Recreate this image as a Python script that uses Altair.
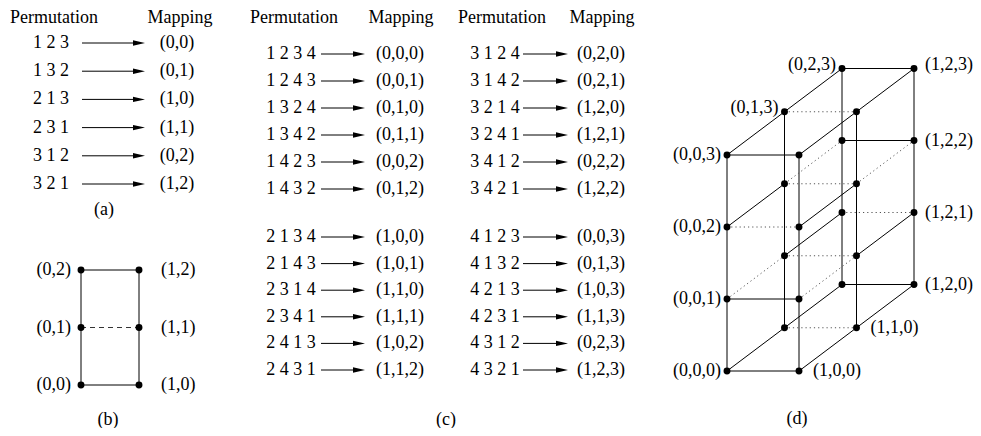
import altair as alt
import pandas as pd

# ---------------- data ----------------
headers = ["Permutation", "Mapping"]
captions = ["(a)", "(b)", "(c)", "(d)"]

perm3 = ["1 2 3", "1 3 2", "2 1 3", "2 3 1", "3 1 2", "3 2 1"]
map3 = ["(0,0)", "(0,1)", "(1,0)", "(1,1)", "(0,2)", "(1,2)"]

perm4_col1 = ["1 2 3 4", "1 2 4 3", "1 3 2 4", "1 3 4 2", "1 4 2 3", "1 4 3 2",
              "2 1 3 4", "2 1 4 3", "2 3 1 4", "2 3 4 1", "2 4 1 3", "2 4 3 1"]
map4_col1 = ["(0,0,0)", "(0,0,1)", "(0,1,0)", "(0,1,1)", "(0,0,2)", "(0,1,2)",
             "(1,0,0)", "(1,0,1)", "(1,1,0)", "(1,1,1)", "(1,0,2)", "(1,1,2)"]
perm4_col2 = ["3 1 2 4", "3 1 4 2", "3 2 1 4", "3 2 4 1", "3 4 1 2", "3 4 2 1",
              "4 1 2 3", "4 1 3 2", "4 2 1 3", "4 2 3 1", "4 3 1 2", "4 3 2 1"]
map4_col2 = ["(0,2,0)", "(0,2,1)", "(1,2,0)", "(1,2,1)", "(0,2,2)", "(1,2,2)",
             "(0,0,3)", "(0,1,3)", "(1,0,3)", "(1,1,3)", "(0,2,3)", "(1,2,3)"]

grid2_nodes = [(0, 0), (0, 1), (0, 2), (1, 0), (1, 1), (1, 2)]
grid2_edges = [((0, 0), (1, 0), "solid"), ((0, 1), (1, 1), "dashed"), ((0, 2), (1, 2), "solid"),
               ((0, 0), (0, 1), "solid"), ((0, 1), (0, 2), "solid"),
               ((1, 0), (1, 1), "solid"), ((1, 1), (1, 2), "solid")]
grid2_left = ["(0,0)", "(0,1)", "(0,2)"]
grid2_right = ["(1,0)", "(1,1)", "(1,2)"]

lat_a = [0, 1]
lat_b = [0, 1, 2]
lat_c = [0, 1, 2, 3]
# style of edge (0,b,c)-(1,b,c), indexed [c][b]
horiz_style = [["solid", "dotted", "solid"],
               ["solid", "dotted", "dotted"],
               ["dotted", "dotted", "solid"],
               ["solid", "dotted", "solid"]]
# style of edge (a,b,c)-(a,b+1,c), indexed [c][b]
diag_style = [["solid", "solid"],
              ["dotted", "solid"],
              ["solid", "dotted"],
              ["solid", "solid"]]
lat_labels_left = [(0, 0, 0), (0, 0, 1), (0, 0, 2), (0, 0, 3)]
lat_labels_left_top = [(0, 1, 3), (0, 2, 3)]
lat_labels_right = [(1, 0, 0), (1, 1, 0)]
lat_labels_right_edge = [(1, 2, 0), (1, 2, 1), (1, 2, 2)]
lat_labels_right_top = [(1, 2, 3)]

# ---------------- layout ----------------
FONT = "Liberation Serif"
FS = 18


def tup(t):
    return "(" + ",".join(str(v) for v in t) + ")"


texts_c, texts_l, texts_r = [], [], []
rules, dashed, dotted, heads, dots = [], [], [], [], []

HY = 18
# panel (a)
for hx, h in zip([54, 180], headers):
    texts_c.append(dict(x=hx, y=HY, t=h))
for i, (p, m) in enumerate(zip(perm3, map3)):
    yy = 43 + 28.2 * i
    texts_c.append(dict(x=51, y=yy, t=p))
    texts_c.append(dict(x=177, y=yy, t=m))
    rules.append(dict(x=82, y=yy, x2=139, y2=yy))
    heads.append(dict(x=139, y=yy))
texts_c.append(dict(x=104, y=210, t=captions[0]))


# panel (b)
def p2(n):
    return 81 + 58 * n[0], 385 - 57.5 * n[1]


for n in grid2_nodes:
    x, y = p2(n)
    dots.append(dict(x=x, y=y))
for a, b, s in grid2_edges:
    (x1, y1), (x2, y2) = p2(a), p2(b)
    (rules if s == "solid" else dashed).append(dict(x=x1, y=y1, x2=x2, y2=y2))
for j, t in enumerate(grid2_left):
    texts_r.append(dict(x=71, y=385 - 57.5 * j, t=t))
for j, t in enumerate(grid2_right):
    texts_l.append(dict(x=161, y=385 - 57.5 * j, t=t))
texts_c.append(dict(x=108, y=420, t=captions[1]))

# panel (c)
for hx, h in zip([294, 401, 502, 602], headers * 2):
    texts_c.append(dict(x=hx, y=HY, t=h))
cols = [(perm4_col1, map4_col1, 291, 321, 359, 400),
        (perm4_col2, map4_col2, 495, 523, 562, 601)]
for perms, maps, px, ax0, ax1, mx in cols:
    for i, (p, m) in enumerate(zip(perms, maps)):
        yy = 54 + 27 * i if i < 6 else 237 + 26.6 * (i - 6)
        texts_c.append(dict(x=px, y=yy, t=p))
        texts_c.append(dict(x=mx, y=yy, t=m))
        rules.append(dict(x=ax0, y=yy, x2=ax1, y2=yy))
        heads.append(dict(x=ax1, y=yy))
texts_c.append(dict(x=446, y=420, t=captions[2]))


# panel (d)
def p3(a, b, c):
    return 727 + 72 * a + 57.5 * b, 371 - 43.25 * b - 72 * c


for a in lat_a:
    for b in lat_b:
        for c in lat_c:
            x, y = p3(a, b, c)
            dots.append(dict(x=x, y=y))
for a in lat_a:
    for b in lat_b:
        x1, y1 = p3(a, b, 0)
        x2, y2 = p3(a, b, 3)
        rules.append(dict(x=x1, y=y1, x2=x2, y2=y2))
for c in lat_c:
    for b in lat_b:
        x1, y1 = p3(0, b, c)
        x2, y2 = p3(1, b, c)
        (rules if horiz_style[c][b] == "solid" else dotted).append(dict(x=x1, y=y1, x2=x2, y2=y2))
    for b in lat_b[:-1]:
        for a in lat_a:
            x1, y1 = p3(a, b, c)
            x2, y2 = p3(a, b + 1, c)
            (rules if diag_style[c][b] == "solid" else dotted).append(dict(x=x1, y=y1, x2=x2, y2=y2))
for n in lat_labels_left:
    x, y = p3(*n)
    texts_r.append(dict(x=x - 6, y=y, t=tup(n)))
for n in lat_labels_left_top:
    x, y = p3(*n)
    texts_r.append(dict(x=x - 6, y=y - 4, t=tup(n)))
for n in lat_labels_right:
    x, y = p3(*n)
    texts_l.append(dict(x=x + 14, y=y, t=tup(n)))
for n in lat_labels_right_edge:
    x, y = p3(*n)
    texts_l.append(dict(x=x + 11, y=y, t=tup(n)))
for n in lat_labels_right_top:
    x, y = p3(*n)
    texts_l.append(dict(x=x + 11, y=y - 4, t=tup(n)))
texts_c.append(dict(x=797, y=419, t=captions[3]))

# ---------------- chart ----------------
XS = alt.Scale(domain=[8, 973], nice=False, zero=False)
YS = alt.Scale(domain=[8, 428], nice=False, zero=False, reverse=True)


def enc_xy(ch, two=False):
    e = dict(x=alt.X("x:Q", scale=XS, axis=None), y=alt.Y("y:Q", scale=YS, axis=None))
    if two:
        e["x2"] = "x2:Q"
        e["y2"] = "y2:Q"
    return ch.encode(**e)


layers = []
layers.append(enc_xy(alt.Chart(pd.DataFrame(rules)).mark_rule(color="black", strokeWidth=1), True))
layers.append(enc_xy(alt.Chart(pd.DataFrame(dashed)).mark_rule(color="#333", strokeWidth=1, strokeDash=[5, 4]), True))
layers.append(enc_xy(alt.Chart(pd.DataFrame(dotted)).mark_rule(color="#555", strokeWidth=1, strokeDash=[1.2, 3]), True))
layers.append(enc_xy(alt.Chart(pd.DataFrame(heads)).mark_point(
    shape="M-1,-0.45L1,0L-1,0.45Z", size=144, filled=True, color="black", opacity=1, strokeWidth=0)))
layers.append(enc_xy(alt.Chart(pd.DataFrame(dots)).mark_circle(size=48, color="black", opacity=1)))
for df, al in [(texts_c, "center"), (texts_l, "left"), (texts_r, "right")]:
    layers.append(alt.Chart(pd.DataFrame(df)).mark_text(
        font=FONT, fontSize=FS, align=al, baseline="middle", color="black").encode(
        x=alt.X("x:Q", scale=XS, axis=None), y=alt.Y("y:Q", scale=YS, axis=None), text="t:N"))

chart = alt.layer(*layers).properties(
    width=965, height=420, padding=0, autosize=alt.AutoSizeParams(type="none"),
    background="white"
).configure_view(strokeWidth=0)

chart.save("out.html", embed_options={"renderer": "svg", "actions": False})
